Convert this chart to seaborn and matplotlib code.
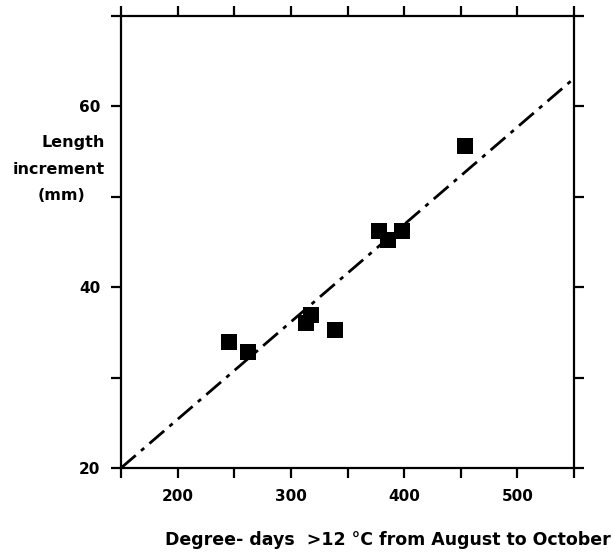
import matplotlib
matplotlib.use("Agg")
import matplotlib.pyplot as plt
import seaborn as sns
import pandas as pd

# Observed points (degree-days vs length increment)
degree_days = [245, 262, 313, 318, 339, 378, 386, 398, 454]
length_inc = [33.9, 32.8, 36.0, 36.9, 35.3, 46.2, 45.2, 46.2, 55.6]

# Fitted regression line end points
line_x = [150, 550]
line_y = [20, 63.1]

x_ticks = [150, 200, 250, 300, 350, 400, 450, 500, 550]
x_labels = ["", "200", "", "300", "", "400", "", "500", ""]
y_ticks = [20, 30, 40, 50, 60, 70]
y_labels = ["20", "", "40", "", "60", ""]

sns.set_style("ticks")
plt.rcParams["font.family"] = ["DejaVu Sans"]
plt.rcParams["font.weight"] = "bold"
plt.rcParams["text.color"] = "black"

df = pd.DataFrame({"dd": degree_days, "inc": length_inc})
line_df = pd.DataFrame({"x": line_x, "y": line_y})

fig = plt.figure(figsize=(6.13, 5.52), dpi=100)
ax = fig.add_axes([0.1974, 0.1522, 0.739, 0.8188])

sns.lineplot(x="x", y="y", data=line_df, ax=ax, color="black", linewidth=2,
             linestyle=(0, (7, 2.5, 1.5, 2.5)))
sns.scatterplot(x="dd", y="inc", data=df, ax=ax, marker="s", s=140,
                color="black", edgecolor="black", linewidth=0, zorder=3)

ax.set_xlim(150, 550)
ax.set_ylim(20, 70)
ax.set_xticks(x_ticks)
ax.set_xticklabels(x_labels)
ax.set_yticks(y_ticks)
ax.set_yticklabels(y_labels)

for side in ["top", "bottom", "left", "right"]:
    ax.spines[side].set_visible(True)
    ax.spines[side].set_linewidth(1.6)
    ax.spines[side].set_color("black")

ax.tick_params(axis="both", which="major", direction="out", length=7, width=1.6,
               colors="black", labelsize=11, pad=8,
               top=True, right=True, labeltop=False, labelright=False)
for lab in ax.get_xticklabels() + ax.get_yticklabels():
    lab.set_fontweight("bold")

ax.set_xlabel("")
ax.set_ylabel("")

fig.text(0.996, 0.022, "Degree- days  >12 °C from August to October",
         ha="right", va="center", fontsize=12.5, fontweight="bold")

# y axis title, three lines
fig.text(0.171, 1 - 143 / 552, "Length", ha="right", va="center",
         fontsize=11.5, fontweight="bold")
fig.text(0.171, 1 - 169 / 552, "increment", ha="right", va="center",
         fontsize=11.5, fontweight="bold")
fig.text(0.101, 1 - 195 / 552, "(mm)", ha="center", va="center",
         fontsize=11.5, fontweight="bold")

fig.savefig("out.png", dpi=100)
